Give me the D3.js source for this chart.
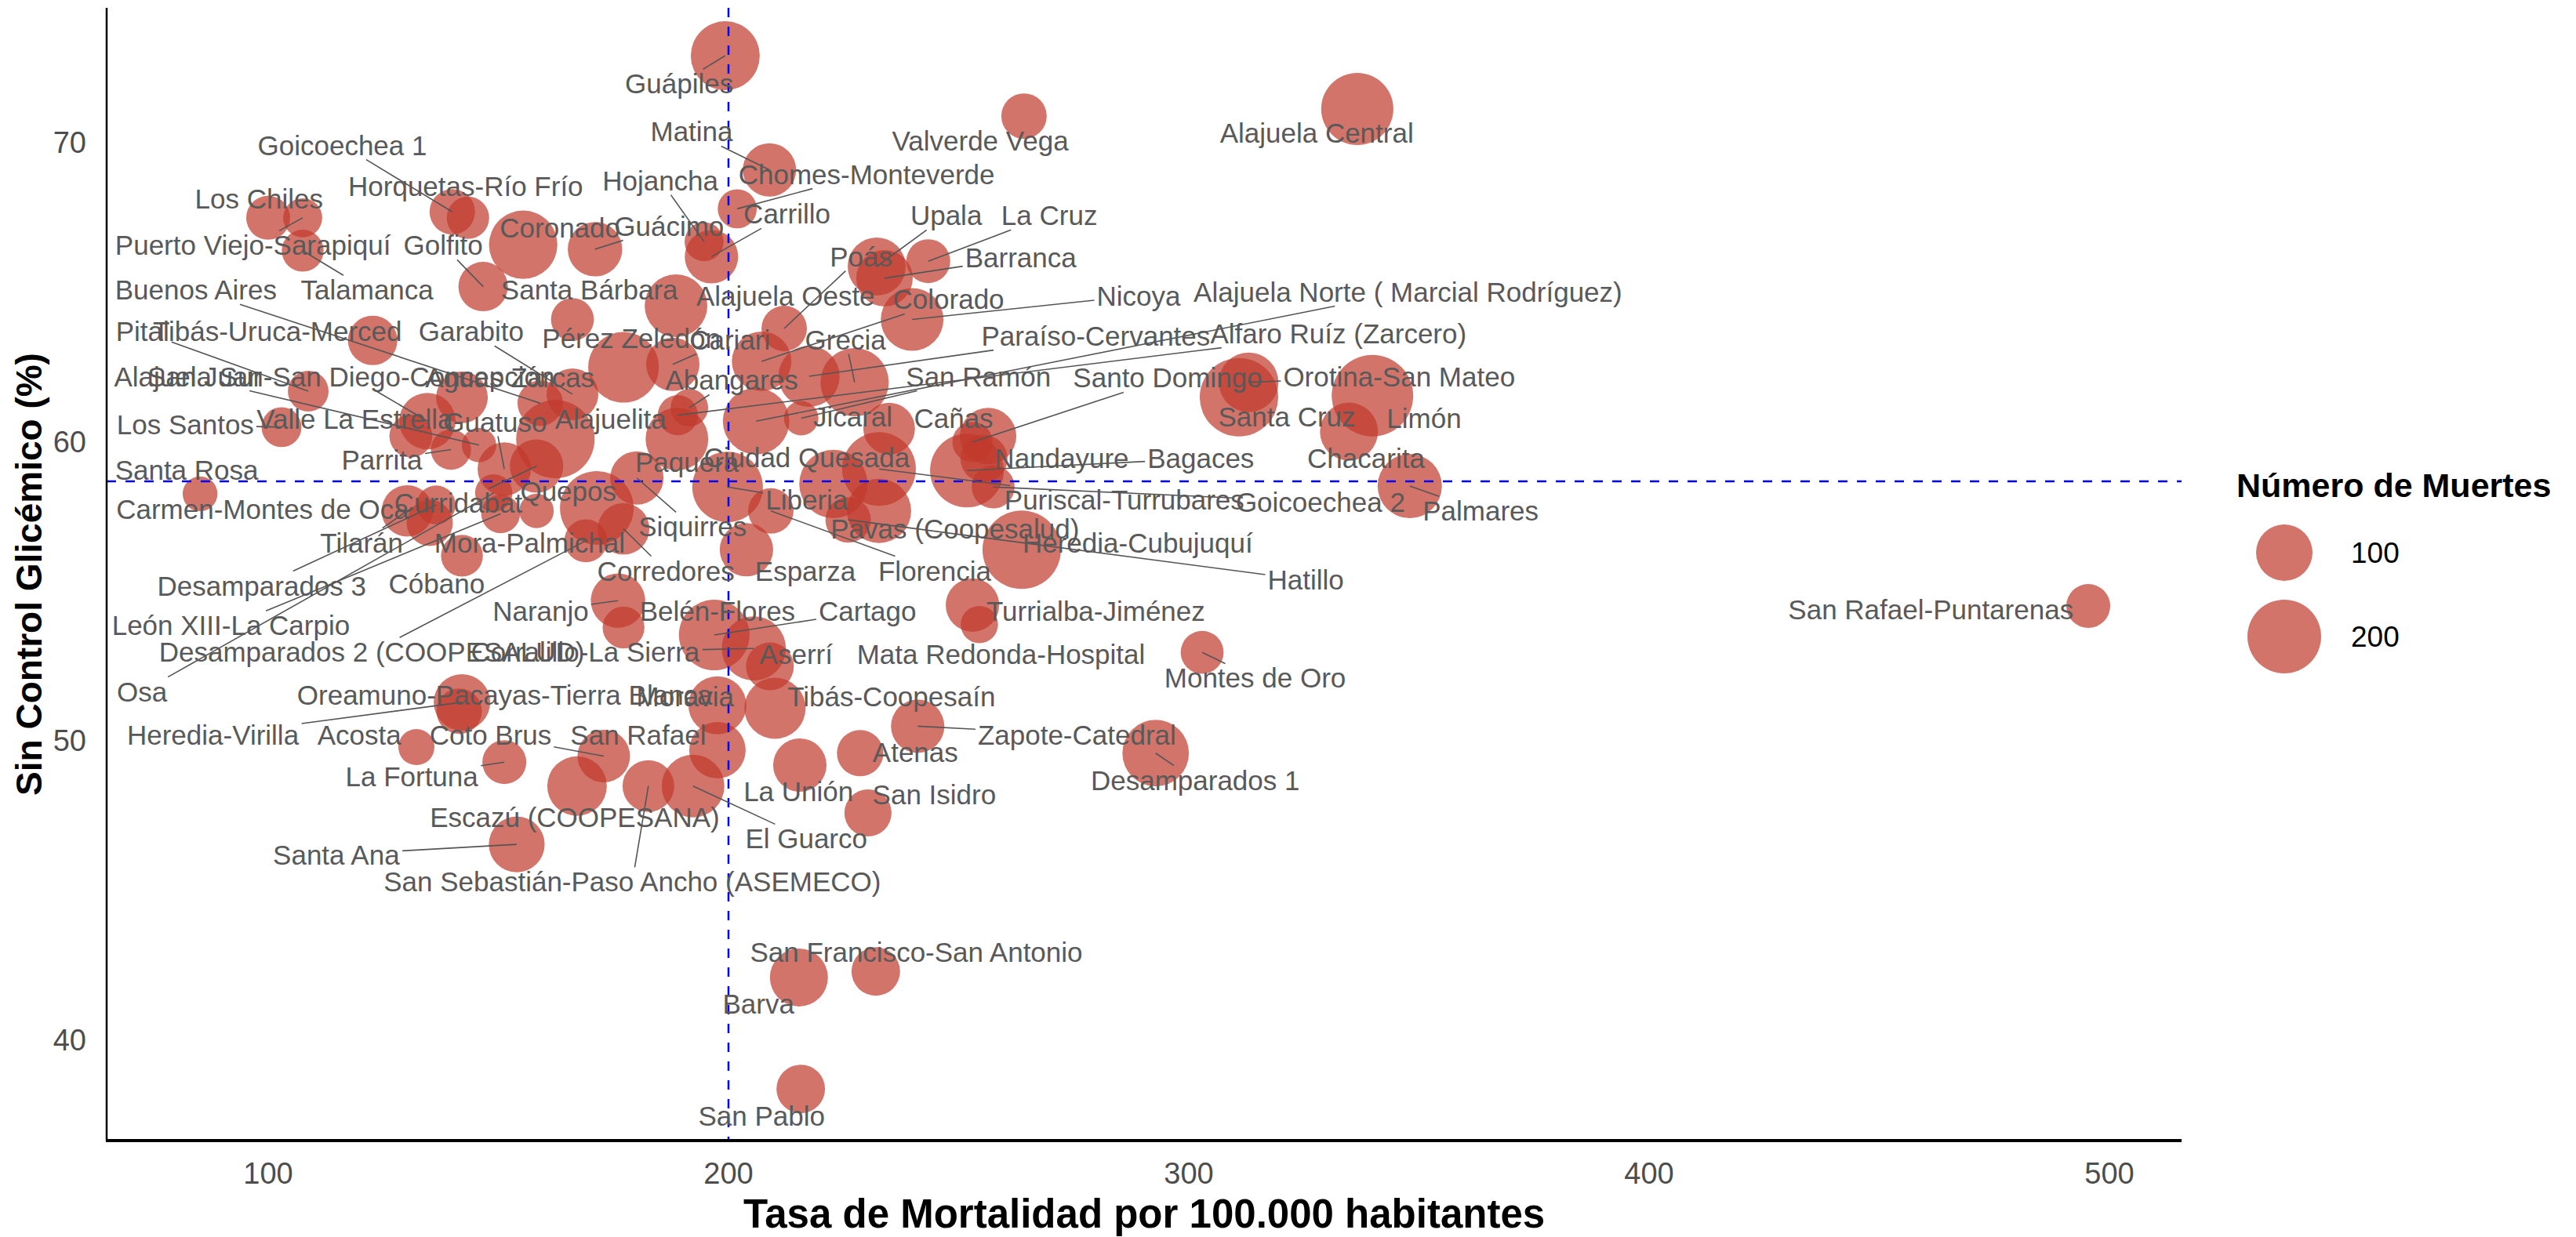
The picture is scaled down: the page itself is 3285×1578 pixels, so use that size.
<!DOCTYPE html>
<html><head><meta charset="utf-8">
<script src="https://cdn.jsdelivr.net/npm/d3@7"></script>
<style>body{margin:0;background:#fff}</style>
</head><body>
<svg id="chart" width="3285" height="1578"></svg>
<script>
const names = ["Guápiles","Matina","Valverde Vega","Alajuela Central","Goicoechea 1","Horquetas-Río Frío","Los Chiles","Puerto Viejo-Sarapiquí","Talamanca","Golfito","Coronado","Guácimo","Hojancha","Chomes-Monteverde","Carrillo","Upala","Barranca","La Cruz","Poás","Alajuela Oeste","Nicoya","Colorado","Paraíso-Cervantes","Grecia","Cariari","Santa Bárbara","Pérez Zeledón","Buenos Aires","Tibás-Uruca-Merced","Pital","Garabito","Alajuela Sur","San Juan-San Diego-Concepción","Aguas Zarcas","Abangares","Alajuela Norte ( Marcial Rodríguez)","Alfaro Ruíz (Zarcero)","San Ramón","Santo Domingo","Orotina-San Mateo","Santa Cruz","Limón","Chacarita","Los Santos","Valle La Estrella","Guatuso","Alajuelita","Jicaral","Cañas","Parrita","Paquera","Ciudad Quesada","Nandayure","Bagaces","Goicoechea 2","Santa Rosa","Carmen-Montes de Oca","Curridabat","Quepos","Liberia","Puriscal-Turrubares","Palmares","Tilarán","Mora-Palmichal","Siquirres","Pavas (Coopesalud)","Heredia-Cubujuquí","Desamparados 3","Cóbano","Corredores","Esparza","Florencia","Hatillo","Naranjo","Belén-Flores","Cartago","Turrialba-Jiménez","San Rafael-Puntarenas","León XIII-La Carpio","Desamparados 2 (COOPESALUD)","Corralillo-La Sierra","Aserrí","Mata Redonda-Hospital","Montes de Oro","Osa","Oreamuno-Pacayas-Tierra Blanca","Moravia","Tibás-Coopesaín","Heredia-Virilla","Acosta","Coto Brus","San Rafael","Zapote-Catedral","Atenas","La Fortuna","Desamparados 1","La Unión","San Isidro","Escazú (COOPESANA)","El Guarco","Santa Ana","San Sebastián-Paso Ancho (ASEMECO)","San Francisco-San Antonio","Barva","San Pablo"];

const tasa = [199.3,208.9,264.2,336.6,140.0,143.4,100.0,107.5,107.5,146.7,155.4,171.0,194.7,201.9,196.3,232.2,233.9,243.4,212.1,188.6,239.9,207.2,217.5,227.4,187.9,166.1,177.2,159.1,122.7,108.7,166.1,145.8,134.6,142.1,191.5,206.0,189.0,215.8,253.0,313.0,310.9,339.9,334.8,102.9,131.0,151.3,162.4,234.9,256.4,139.7,188.8,222.8,255.5,251.8,257.5,85.2,135.1,158.3,171.4,199.8,232.7,348.0,130.2,158.3,180.1,232.7,263.7,136.5,142.1,177.2,203.9,209.2,226.0,176.0,177.2,196.9,253.0,495.4,150.5,169.0,205.5,209.0,254.5,302.9,149.0,141.5,197.6,210.1,142.1,132.2,172.9,197.6,241.1,228.6,151.3,292.8,215.5,230.3,167.1,192.3,154.0,182.6,232.0,215.3,215.7];

const sinControl = [72.92,69.1,70.9,71.14,67.7,67.5,67.5,67.5,66.4,65.2,66.6,66.45,66.7,67.8,66.2,65.87,65.48,66.05,63.8,64.56,64.1,62.7,62.2,62.0,62.6,64.1,62.5,61.3,63.4,61.7,61.6,59.9,60.7,61.5,61.15,60.7,60.9,60.8,60.0,62.0,61.5,61.55,60.35,60.5,60.2,59.1,60.1,60.45,60.2,59.75,60.1,58.6,59.45,59.05,58.5,58.27,57.3,59.2,57.8,58.5,59.1,58.53,57.7,57.7,58.8,57.7,56.4,57.9,56.2,57.1,56.4,57.7,57.4,54.7,53.8,53.55,54.55,54.52,57.6,56.7,53.1,52.5,53.9,52.97,58.3,51.0,51.2,51.1,51.3,49.8,49.5,49.7,50.5,49.6,49.3,49.6,49.2,47.6,48.5,48.5,46.55,48.5,42.3,42.1,38.37];

const muertes = [170,85,50,190,50,38,44,26,36,67,166,90,26,26,85,108,100,44,50,133,133,116,125,166,85,40,180,50,67,32,77,11,100,77,21,155,30,11,30,116,232,254,108,29,40,85,232,77,100,30,133,166,57,200,40,12,53,85,200,180,200,142,75,11,85,142,232,25,36,77,85,50,50,90,36,180,85,44,25,40,142,60,20,40,20,50,108,125,100,16,81,100,85,54,44,155,85,57,116,133,97,77,63,108,63];

// repelled label anchors (data units), as placed in the original figure
const labelTasa = [189.3,192.0,254.7,327.8,116.1,142.9,98.0,96.7,121.5,138.0,163.4,187.1,185.2,230.0,212.7,247.3,263.5,269.7,228.8,212.4,289.1,247.8,279.8,225.4,200.3,169.8,178.9,84.3,102.0,72.7,144.1,82.6,118.0,152.5,200.7,347.6,332.5,254.3,295.4,345.7,321.3,351.1,338.5,82.0,118.8,149.3,174.4,227.0,248.9,124.7,191.0,217.0,272.4,302.6,328.6,82.3,98.8,141.3,165.2,217.0,286.0,363.4,120.3,156.8,192.2,249.2,288.9,98.6,136.6,186.4,216.7,244.8,325.4,159.2,197.6,230.2,279.8,461.2,91.9,122.5,168.9,214.7,259.2,314.4,72.6,151.4,190.6,235.4,88.0,119.8,148.3,180.4,275.7,240.6,131.2,301.4,215.2,244.7,166.6,216.9,114.8,179.1,240.8,206.5,207.2];
const labelSin = [71.98,70.38,70.07,70.33,69.93,68.55,68.15,66.58,65.09,66.58,67.18,67.23,68.75,68.96,67.63,67.58,66.18,67.58,66.21,64.88,64.9,64.77,63.56,63.43,63.43,65.09,63.46,65.09,63.7,63.7,63.7,62.2,62.2,62.15,62.07,65.03,63.64,62.2,62.15,62.2,60.84,60.81,59.45,60.58,60.76,60.68,60.76,60.84,60.81,59.4,59.32,59.5,59.45,59.45,58.0,59.06,57.75,57.96,58.35,58.06,58.06,57.7,56.64,56.62,57.17,57.09,56.62,55.2,55.26,55.7,55.7,55.7,55.39,54.34,54.34,54.34,54.34,54.39,53.87,52.98,52.98,52.9,52.9,52.11,51.66,51.54,51.5,51.5,50.2,50.2,50.2,50.2,50.22,49.62,48.83,48.7,48.31,48.23,47.47,46.74,46.21,45.3,42.94,41.23,37.48];

const xTicks = [100,200,300,400,500];
const yTicks = [40,50,60,70];
const legendBreaks = [100,200];
const refTasa = 200;
const refSinControl = 58.69;

const data = names.map((n,i)=>({name:n, x:tasa[i], y:sinControl[i], v:muertes[i], lx:labelTasa[i], ly:labelSin[i]}));

const svg = d3.select("#chart");
const L=136, R=2782, T=10, B=1455;
const x = d3.scaleLinear().domain([64.91, 515.67]).range([L, R]);
const y = d3.scaleLinear().domain([36.645, 74.52]).range([B, T]);
const area = d3.scaleLinear().domain([0, 200]).range([383, 2209]);
const rad = v => Math.sqrt(area(v));

const FILL = "#C0392B", OP = 0.7;
const FONT = "'Liberation Sans', Arial, sans-serif";

svg.append("g").selectAll("circle").data(data).join("circle")
  .attr("cx", d=>x(d.x)).attr("cy", d=>y(d.y)).attr("r", d=>rad(d.v))
  .attr("fill", FILL).attr("fill-opacity", OP);

svg.append("line").attr("x1", L).attr("x2", R).attr("y1", y(refSinControl)).attr("y2", y(refSinControl))
  .attr("stroke","#0000FF").attr("stroke-width",2.5).attr("stroke-dasharray","12,12");
svg.append("line").attr("x1", x(refTasa)).attr("x2", x(refTasa)).attr("y1", T).attr("y2", B)
  .attr("stroke","#0000FF").attr("stroke-width",2.5).attr("stroke-dasharray","12,12");

const segG = svg.append("g");
const txtG = svg.append("g");
data.forEach(d=>{
  const t = txtG.append("text").attr("x", x(d.lx)).attr("y", y(d.ly))
    .attr("text-anchor","middle").attr("dominant-baseline","central")
    .attr("font-family", FONT).attr("font-size", 35).attr("fill","#595959").text(d.name);
  const bb = t.node().getBBox();
  const pad = 3;
  const x0 = bb.x - pad, x1 = bb.x + bb.width + pad, y0 = bb.y + 4 - pad, y1 = bb.y + bb.height - 4 + pad;
  const px = x(d.x), py = y(d.y);
  const cx = (x0+x1)/2, cy = (y0+y1)/2;
  if (px >= x0 && px <= x1 && py >= y0 && py <= y1) return;
  const dx = px - cx, dy = py - cy;
  let s = Infinity;
  if (dx !== 0) s = Math.min(s, ((dx>0?x1:x0) - cx)/dx);
  if (dy !== 0) s = Math.min(s, ((dy>0?y1:y0) - cy)/dy);
  const ex = cx + dx*s, ey = cy + dy*s;
  const len = Math.hypot(px-ex, py-ey);
  if (len < 28) return;
  segG.append("line").attr("x1", ex).attr("y1", ey).attr("x2", px).attr("y2", py)
    .attr("stroke","#555555").attr("stroke-width",1.6);
});

svg.append("line").attr("x1", L).attr("x2", L).attr("y1", T).attr("y2", B).attr("stroke","#000").attr("stroke-width",2.5);
svg.append("line").attr("x1", L-1).attr("x2", R).attr("y1", B).attr("y2", B).attr("stroke","#000").attr("stroke-width",4);

svg.append("g").selectAll("text").data(xTicks).join("text")
  .attr("x", d=>x(d)).attr("y", 1497).attr("text-anchor","middle").attr("dominant-baseline","central")
  .attr("font-family", FONT).attr("font-size", 38).attr("fill","#4D4D4D").text(d=>d);
svg.append("g").selectAll("text").data(yTicks).join("text")
  .attr("x", 110).attr("y", d=>y(d)).attr("text-anchor","end").attr("dominant-baseline","central")
  .attr("font-family", FONT).attr("font-size", 38).attr("fill","#4D4D4D").text(d=>d);

svg.append("text").attr("x", (L+R)/2).attr("y", 1548).attr("text-anchor","middle").attr("dominant-baseline","central")
  .attr("font-family", FONT).attr("font-weight","bold").attr("font-size", 51).attr("fill","#000")
  .text("Tasa de Mortalidad por 100.000 habitantes");
svg.append("text").attr("transform", `translate(37,${(T+B)/2}) rotate(-90)`).attr("text-anchor","middle").attr("dominant-baseline","central")
  .attr("font-family", FONT).attr("font-weight","bold").attr("font-size", 46).attr("fill","#000")
  .text("Sin Control Glicémico (%)");

const lg = svg.append("g");
lg.append("text").attr("x", 2852).attr("y", 619).attr("dominant-baseline","central")
  .attr("font-family", FONT).attr("font-weight","bold").attr("font-size", 43).attr("fill","#000").text("Número de Muertes");
const legY = [705, 812];
legendBreaks.forEach((b,i)=>{
  lg.append("circle").attr("cx", 2913).attr("cy", legY[i]).attr("r", rad(b)).attr("fill", FILL).attr("fill-opacity", OP);
  lg.append("text").attr("x", 2998).attr("y", legY[i]).attr("dominant-baseline","central")
    .attr("font-family", FONT).attr("font-size", 37).attr("fill","#000").text(b);
});
</script>
</body></html>
